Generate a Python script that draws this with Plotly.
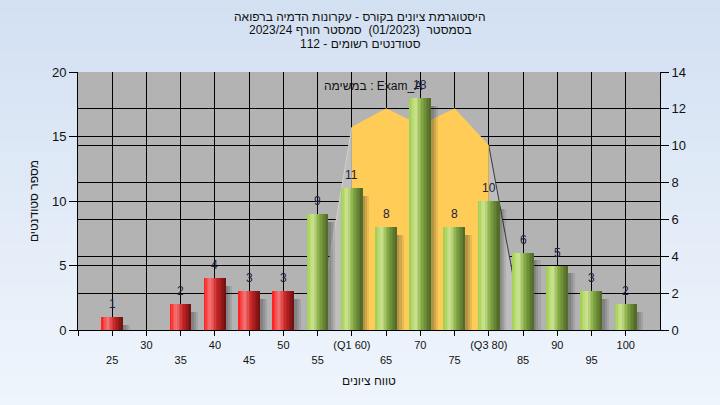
import plotly.graph_objects as go

# ---------------- data ----------------
categories = [25, 30, 35, 40, 45, 50, 55, 60, 65, 70, 75, 80, 85, 90, 95, 100]
counts = [1, 0, 2, 4, 3, 3, 9, 11, 8, 18, 8, 10, 6, 5, 3, 2]
tick_labels = ["25", "30", "35", "40", "45", "50", "55", "(Q1 60)", "65", "70",
               "75", "(Q3 80)", "85", "90", "95", "100"]
pass_score = 55

# distribution curve (right axis)
curve_core_x = [60, 65, 70, 75, 80]
curve_core_y = [11, 12, 11.1, 12, 10]
curve_left_x = [55, 60]
curve_left_y = [0, 11]
curve_right_x = [80, 85]
curve_right_y = [10, 0]

title_lines = ["היסטוגרמת ציונים בקורס - עקרונות הדמיה ברפואה",
               "בסמסטר  (01/2023)  סמסטר חורף 2023/24",
               "סטודנטים רשומים - 112"]
legend_text = "במשימה : Exam_A"
x_title = "טווח ציונים"
y_title = "מספר סטודנטים"

# ---------------- styling ----------------
W, H = 720, 405
ML, MR, MT, MB = 78, 60, 72, 75
PW, PH = W - ML - MR, H - MT - MB
FONT = "Liberation Sans, Arial, sans-serif"
BAR_W = 3.1

def lerp(stops, t):
    for i in range(len(stops) - 1):
        t0, c0 = stops[i]
        t1, c1 = stops[i + 1]
        if t0 <= t <= t1:
            f = (t - t0) / (t1 - t0) if t1 > t0 else 0
            return "rgb(%d,%d,%d)" % tuple(round(a + (b - a) * f) for a, b in zip(c0, c1))
    return "rgb(%d,%d,%d)" % stops[-1][1]

red_stops = [(0, (255, 25, 25)), (0.3, (242, 120, 120)), (0.6, (205, 40, 40)), (1, (110, 15, 15))]
green_stops = [(0, (160, 205, 80)), (0.3, (205, 228, 145)), (0.6, (130, 168, 68)), (1, (78, 102, 38))]

fig = go.Figure()

# curve (main y axis = right side)
fig.add_trace(go.Scatter(x=curve_left_x, y=curve_left_y, mode="lines", fill="tozeroy",
                         fillcolor="#bebebe", line=dict(color="#d0d0d0", width=1),
                         hoverinfo="skip", showlegend=False, yaxis="y"))
fig.add_trace(go.Scatter(x=curve_right_x, y=curve_right_y, mode="lines", fill="tozeroy",
                         fillcolor="#bebebe", line=dict(color="#3a3a3a", width=1),
                         hoverinfo="skip", showlegend=False, yaxis="y"))
fig.add_trace(go.Scatter(x=curve_core_x, y=curve_core_y, mode="lines", fill="tozeroy",
                         fillcolor="#FFCC57", line=dict(color="#FFCC57", width=1),
                         hoverinfo="skip", showlegend=False, yaxis="y"))

# soft bar shadows (layered for a blur-like look)
for off, alpha in [(1.0, 0.10), (0.7, 0.12), (0.4, 0.14)]:
    fig.add_trace(go.Bar(x=categories, y=[max(c - 0.3, 0) if c else 0 for c in counts],
                         base=[-0.3] * len(counts), width=BAR_W, offset=-BAR_W / 2 + off,
                         marker=dict(color="rgba(30,30,30,%.2f)" % alpha, line=dict(width=0)),
                         hoverinfo="skip", showlegend=False, yaxis="y2"))

# cylinder-shaded bars from stripes
N = 14
for k in range(N):
    t = (k + 0.5) / N
    cols = [lerp(red_stops if c < pass_score else green_stops, t) for c in categories]
    fig.add_trace(go.Bar(x=categories, y=counts, width=BAR_W / N + 0.02,
                         offset=-BAR_W / 2 + k * BAR_W / N,
                         marker=dict(color=cols, line=dict(width=0)),
                         hoverinfo="skip", showlegend=False, yaxis="y2"))

# background gradient
shapes = []
NS = 40
top, bot = (211, 224, 242), (239, 245, 252)
for i in range(NS):
    f = i / (NS - 1)
    col = "rgb(%d,%d,%d)" % tuple(round(a + (b - a) * f) for a, b in zip(top, bot))
    y0px = H * i / NS
    y1px = H * (i + 1) / NS + 1
    shapes.append(dict(type="rect", xref="paper", yref="paper", layer="below",
                       x0=-ML / PW, x1=(W - ML) / PW,
                       y0=(H - MB - y1px) / PH, y1=(H - MB - y0px) / PH,
                       fillcolor=col, line=dict(width=0)))
shapes.append(dict(type="rect", xref="paper", yref="paper", layer="below",
                   x0=0, x1=1, y0=0, y1=1, fillcolor="#b3b3b3", line=dict(width=0)))

annotations = []
for i, line in enumerate(title_lines):
    ypx = 17 + i * 13.3
    annotations.append(dict(text=line, xref="paper", yref="paper", x=(360 - ML) / PW,
                            y=(H - MB - ypx) / PH, showarrow=False, xanchor="center",
                            yanchor="middle", font=dict(family=FONT, size=12, color="#111")))
annotations.append(dict(text=legend_text, xref="paper", yref="paper", x=(373 - ML) / PW,
                        y=(H - MB - 86) / PH, showarrow=False, xanchor="center",
                        yanchor="middle", font=dict(family=FONT, size=12, color="#111")))

# value labels above bars
for c, v in zip(categories, counts):
    if v > 0:
        annotations.append(dict(text=str(v), x=c, y=v, xref="x", yref="y2",
                                showarrow=False, xanchor="center", yanchor="bottom",
                                yshift=4, font=dict(family=FONT, size=12, color="#202040")))

tickvals = [20] + categories
ticktext = [""] + [(t if i % 2 == 1 else "<br>" + t) for i, t in enumerate(tick_labels)]

fig.update_layout(
    width=W, height=H, margin=dict(l=ML, r=MR, t=MT, b=MB, pad=0, autoexpand=False),
    paper_bgcolor="rgb(225,234,247)", plot_bgcolor="rgba(0,0,0,0)",
    barmode="overlay", bargap=0, showlegend=False,
    shapes=shapes, annotations=annotations,
    font=dict(family=FONT, size=12, color="#111"),
    xaxis=dict(range=[20, 105], tickmode="array", tickvals=tickvals, ticktext=ticktext,
               ticks="outside", ticklen=5, tickcolor="black", showgrid=True,
               gridcolor="black", gridwidth=1, showline=True, linecolor="black",
               zeroline=False, automargin=False,
               tickfont=dict(family=FONT, size=11, color="#111"),
               title=dict(text=x_title, font=dict(family=FONT, size=12, color="#111"),
                          standoff=12)),
    yaxis=dict(range=[0, 14], dtick=2, side="right", ticks="outside", ticklen=8,
               tickcolor="black", showgrid=True, gridcolor="black", gridwidth=1,
               showline=True, linecolor="black", zeroline=False, automargin=False,
               tickfont=dict(family=FONT, size=13, color="#111")),
    yaxis2=dict(range=[0, 20], dtick=5, side="left", overlaying="y", ticks="outside",
                ticklen=8, tickcolor="black", showgrid=True, gridcolor="black",
                gridwidth=1, showline=True, linecolor="black", zeroline=False,
                automargin=False,
                tickfont=dict(family=FONT, size=13, color="#111"),
                title=dict(text=y_title, font=dict(family=FONT, size=12, color="#111"),
                           standoff=10)),
)

fig.write_html("out.html", config={"displayModeBar": False},
               post_script="document.body.style.margin='0';document.body.style.padding='0';")
